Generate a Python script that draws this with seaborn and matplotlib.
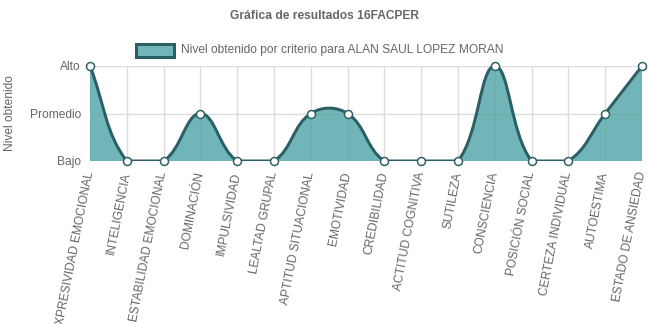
import numpy as np
import pandas as pd
import matplotlib
matplotlib.use("Agg")
import matplotlib.pyplot as plt
import seaborn as sns
from matplotlib.path import Path
from matplotlib.patches import PathPatch, Rectangle

categories = ["EXPRESIVIDAD EMOCIONAL", "INTELIGENCIA", "ESTABILIDAD EMOCIONAL",
              "DOMINACIÓN", "IMPULSIVIDAD", "LEALTAD GRUPAL", "APTITUD SITUACIONAL",
              "EMOTIVIDAD", "CREDIBILIDAD", "ACTITUD COGNITIVA", "SUTILEZA",
              "CONSCIENCIA", "POSICIÓN SOCIAL", "CERTEZA INDIVIDUAL", "AUTOESTIMA",
              "ESTADO DE ANSIEDAD"]
level_names = ["Bajo", "Promedio", "Alto"]
values = [2, 0, 0, 1, 0, 0, 1, 1, 0, 0, 0, 2, 0, 0, 1, 2]
title = "Gráfica de resultados 16FACPER"
legend_label = "Nivel obtenido por criterio para ALAN SAUL LOPEZ MORAN"
ylabel = "Nivel obtenido"

W, H = 648, 324
TXT = "#666666"
GRID = "#dcdcdc"
LINE = "#2a5f66"
FILL = "#4fa3a6"
PX = 72 / 100  # points per pixel

sns.set_theme(style="white")
plt.rcParams["font.family"] = ["Liberation Sans", "DejaVu Sans"]

df = pd.DataFrame({"x": np.arange(len(categories)), "criterio": categories, "nivel": values})

fig = plt.figure(figsize=(W / 100, H / 100), dpi=100)
ax = fig.add_axes([90 / W, 1 - 161 / H, 552 / W, 95 / H])
ax.set_xlim(0, len(categories) - 1)
ax.set_ylim(0, 2)
for s in ax.spines.values():
    s.set_visible(False)
ax.set_axisbelow(True)
ax.grid(True, color=GRID, lw=1 * PX * 1.4)

# Chart.js style spline (tension 0.4) computed in display space
t = 0.4
pts = ax.transData.transform(np.column_stack([df["x"], df["nivel"]]).astype(float))
n = len(pts)
cprev, cnext = [], []
bb = ax.bbox
for i in range(n):
    p = pts[max(i - 1, 0)]
    c = pts[i]
    q = pts[min(i + 1, n - 1)]
    d01 = np.hypot(*(c - p))
    d12 = np.hypot(*(q - c))
    tot = d01 + d12
    s01 = d01 / tot if tot else 0
    s12 = d12 / tot if tot else 0
    a = c - t * s01 * (q - p)
    b = c + t * s12 * (q - p)
    for v in (a, b):
        v[0] = min(max(v[0], bb.x0), bb.x1)
        v[1] = min(max(v[1], bb.y0), bb.y1)
    cprev.append(a)
    cnext.append(b)
verts = [pts[0]]
codes = [Path.MOVETO]
for i in range(n - 1):
    verts += [cnext[i], cprev[i + 1], pts[i + 1]]
    codes += [Path.CURVE4] * 3
inv = ax.transData.inverted()
dverts = inv.transform(np.array(verts))
line_path = Path(dverts, codes)
fverts = np.vstack([dverts, [[n - 1, 0], [0, 0], [0, 0]]])
fcodes = codes + [Path.LINETO, Path.LINETO, Path.CLOSEPOLY]
ax.add_patch(PathPatch(Path(fverts, fcodes), facecolor=FILL, alpha=0.8, edgecolor="none", zorder=2))
ax.add_patch(PathPatch(line_path, facecolor="none", edgecolor=LINE, lw=3 * PX, zorder=3,
                       capstyle="round", joinstyle="round"))

sc = sns.scatterplot(data=df, x="x", y="nivel", ax=ax, s=(8 * PX) ** 2, color="white",
                     edgecolor=LINE, linewidth=1.5 * PX, zorder=4, legend=False)
for coll in ax.collections:
    coll.set_clip_on(False)

ax.set_xticks(df["x"], categories, rotation=79, ha="right", va="center",
              rotation_mode="anchor")
ax.set_yticks([0, 1, 2], level_names)
ax.tick_params(axis="both", length=8 * PX, color=GRID, width=1 * PX * 1.4,
               labelsize=12 * PX, labelcolor=TXT)
ax.tick_params(axis="x", pad=3 * PX)
ax.tick_params(axis="y", pad=1 * PX)
ax.set_xlabel("")
ax.set_ylabel("")

fig.text(0.5, 1 - 16 / H, title, ha="center", va="center", fontsize=12 * PX,
         fontweight="bold", color=TXT)
fig.text(10 / W, 1 - 113 / H, ylabel, rotation=90, ha="center", va="center",
         fontsize=12 * PX, color=TXT)
fig.patches.append(Rectangle((136 / W, 1 - 57 / H), 38 / W, 13 / H, transform=fig.transFigure,
                             facecolor=FILL, alpha=0.8, edgecolor="none", figure=fig))
fig.patches.append(Rectangle((136 / W, 1 - 57 / H), 38 / W, 13 / H, transform=fig.transFigure,
                             facecolor="none", edgecolor=LINE, lw=3 * PX, figure=fig))
fig.text(181 / W, 1 - 50 / H, legend_label, ha="left", va="center", fontsize=12 * PX, color=TXT)

fig.savefig("out.png", dpi=100)
